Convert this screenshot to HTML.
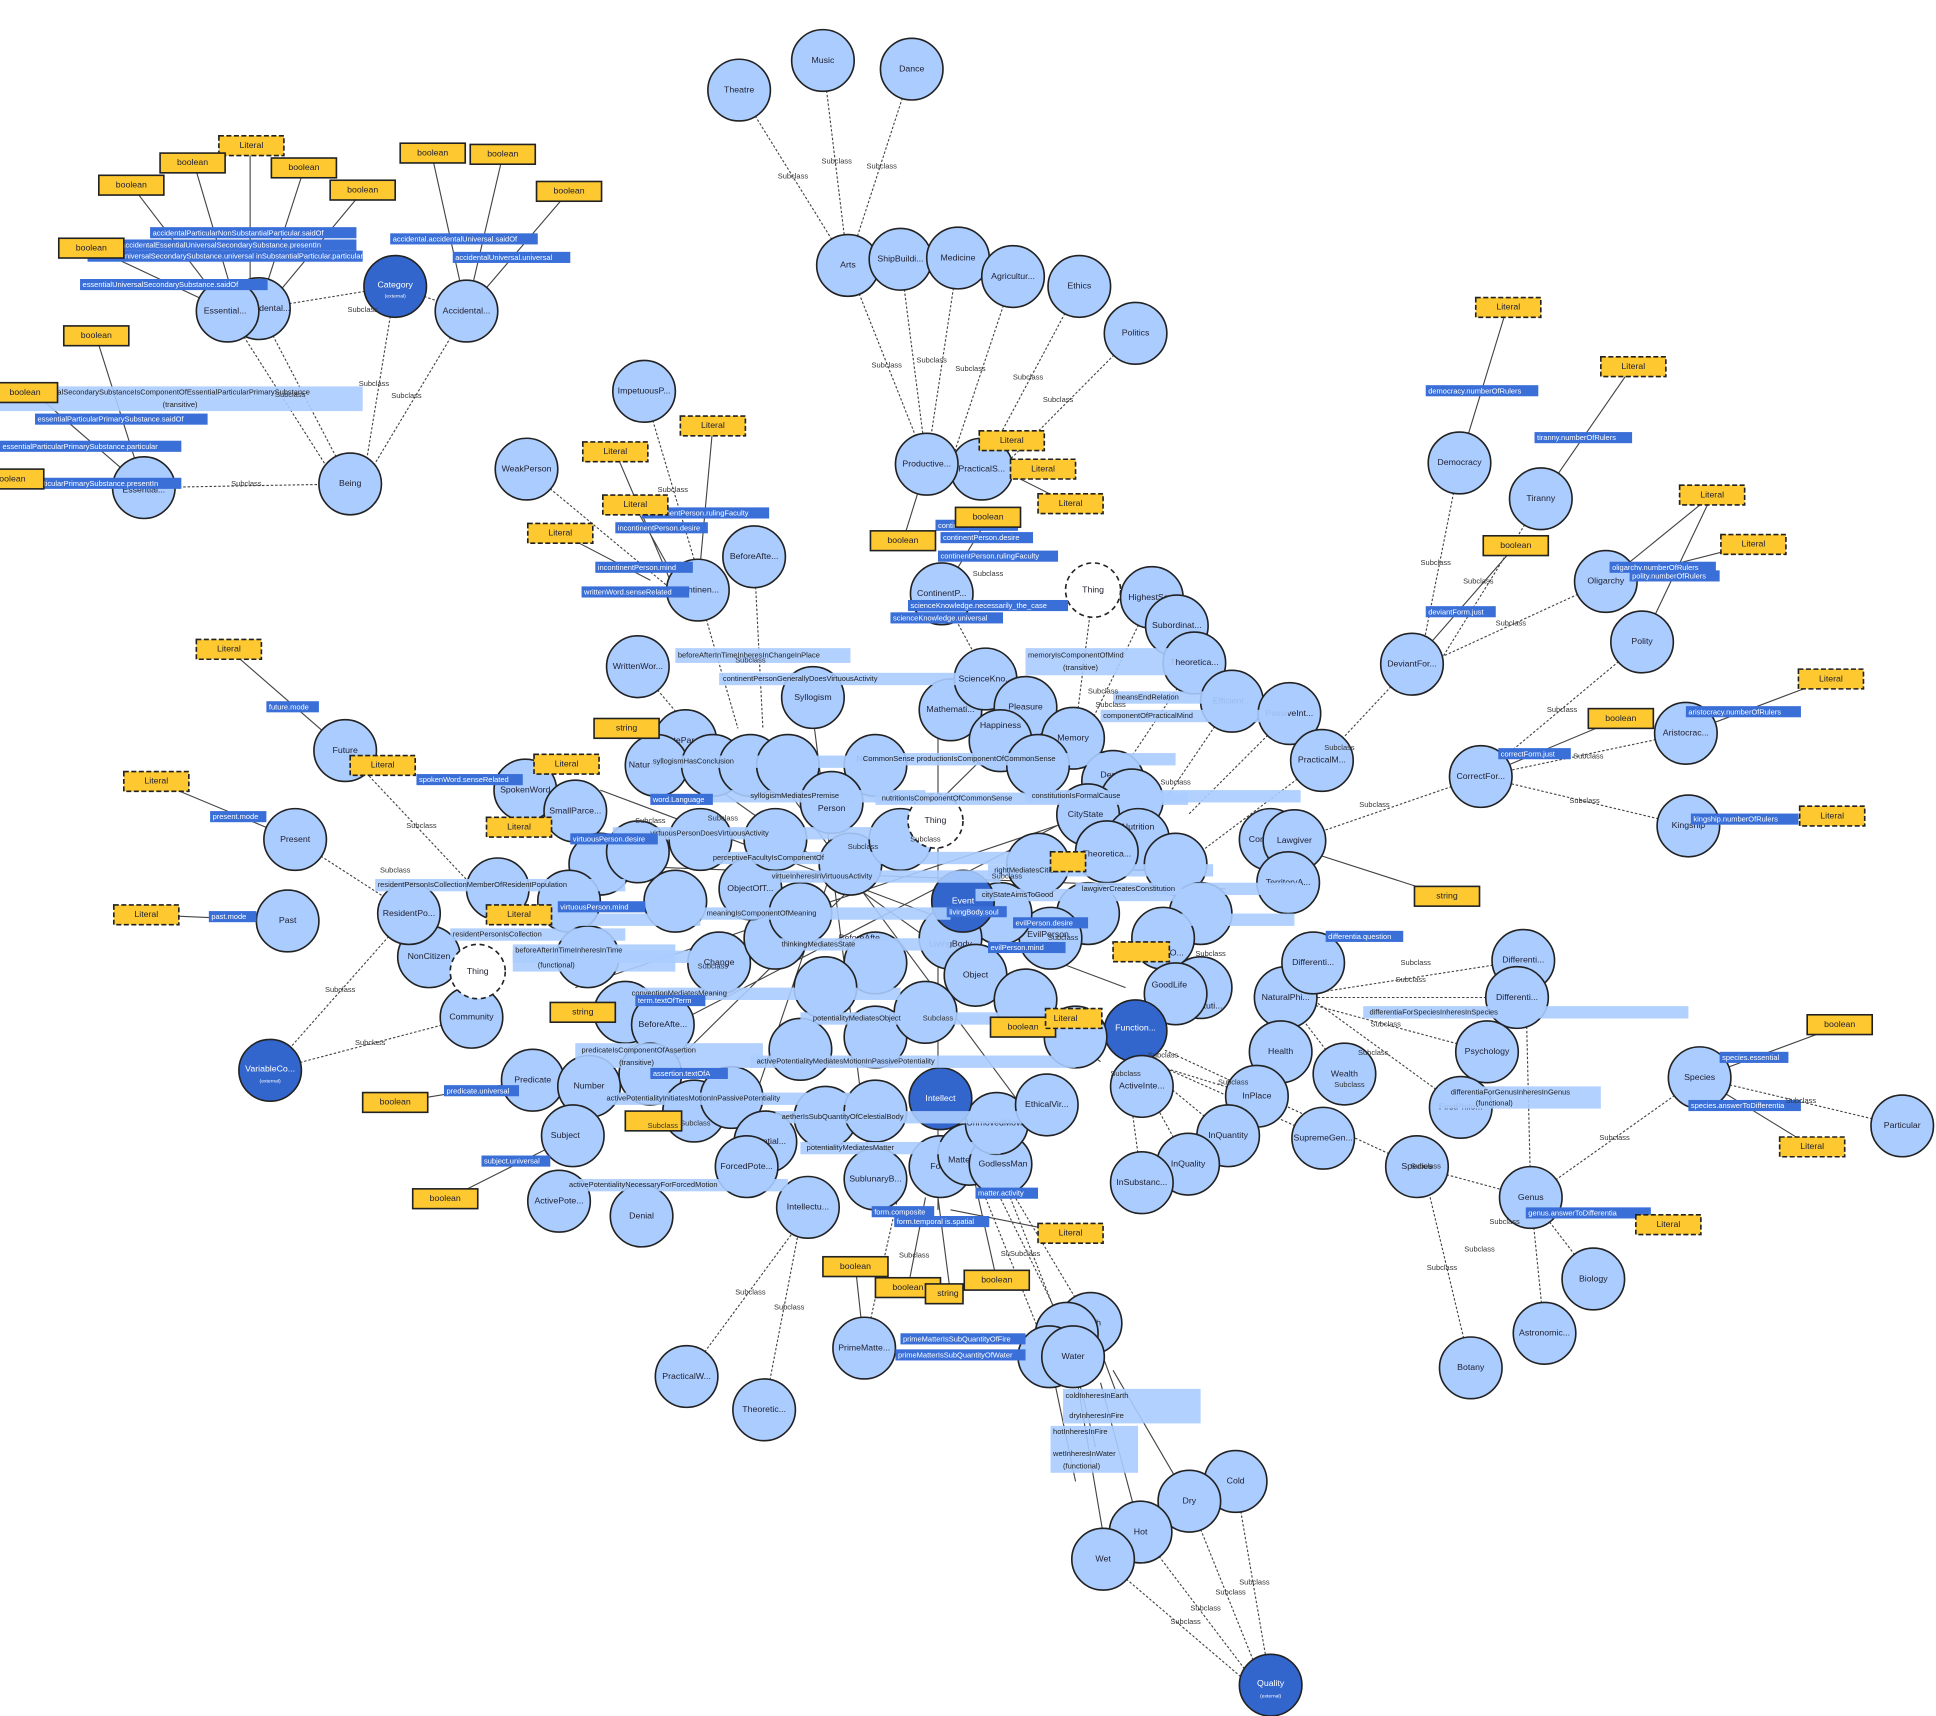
<!DOCTYPE html>
<html><head><meta charset="utf-8"><style>
html,body{margin:0;padding:0;background:#fff;}
svg{display:block;}
text{font-family:"Liberation Sans",sans-serif;}
.n{fill:#aaccff;stroke:#222;stroke-width:1.3;}
.d{fill:#3366cc;stroke:#222;stroke-width:1.3;}
.dt{fill:#fff;stroke:#222;stroke-width:1.3;stroke-dasharray:4 3;}
.t{font-size:7px;fill:#223;text-anchor:middle;dominant-baseline:middle;}
.tw{font-size:7px;fill:#fff;text-anchor:middle;dominant-baseline:middle;}
.s{stroke:#444;stroke-width:0.9;fill:none;stroke-dasharray:2 1.5;}
.p{stroke:#444;stroke-width:0.9;fill:none;}
.y{fill:#fdc830;stroke:#222;stroke-width:1.3;}
.yl{fill:#fdc830;stroke:#222;stroke-width:1.3;stroke-dasharray:4 2;}
.bl{fill:#3a6fd8;}
.lb{fill:#aaccff;opacity:.9;}
.lt{font-size:6px;fill:#fff;dominant-baseline:middle;}
.lk{font-size:6px;fill:#222;dominant-baseline:middle;}
.sc{font-size:6px;fill:#333;text-anchor:middle;dominant-baseline:middle;}
</style></head><body>
<svg width="1936" height="1716" viewBox="0 0 1548 1390" preserveAspectRatio="none">
<!-- edges -->
<g class="s">
<path d="M591 73L678 215M658 49L678 215M729 56L678 215"/>
<path d="M678 215L741 376M720 210L741 376M766 209L741 376M810 224L760 376M863 232L785 380M908 270L800 380"/>
<path d="M207 250L280 392M182 252L270 392M316 232L373 252M207 250L316 232M373 252L290 392M316 232L290 392M115 395L280 392"/>
<path d="M1167 375L1135 538M1232 404L1150 538M1284 471L1140 538M1129 538L1057 616M1313 520L1184 629M1348 594L1184 629M1350 669L1184 629M1184 629L1035 681"/>
<path d="M327 740L216 867M377 824L216 867M276 608L380 720M236 680L320 735"/>
<path d="M1218 778L1028 808M1213 808L1028 808M1189 852L1028 808M1024 852L1028 808M1075 870L1028 808M1168 897L1050 810"/>
<path d="M1133 945L1224 970M1359 873L1224 970M1274 1036L1224 970M1235 1080L1224 970M1176 1108L1140 955M1224 970L1220 800"/>
<path d="M1521 912L1359 873"/>
<path d="M913 958L900 860M950 943L905 860M982 920L910 860M1005 888L915 860M1058 922L920 860M1133 945L930 850"/>
<path d="M988 1200L1016 1365M951 1216L1010 1365M912 1241L1005 1365M882 1263L1000 1365"/>
<path d="M872 1072L800 950M853 1080L790 950M839 1099L780 950M858 1099L800 950M691 1092L720 960"/>
<path d="M549 1115L640 990M611 1142L640 990"/>
<path d="M421 380L540 480M515 317L560 470M603 451L610 590M558 478L590 590M510 540L560 600"/>
<path d="M1057 616L960 690M1031 578L950 660M985 568L930 650M955 537L900 620"/>
<path d="M753 481L790 550M874 478L860 590M921 484L870 590"/>
</g>
<g class="p">
<path d="M182 252L105 150M190 252L155 132M200 252L200 118M207 250L243 137M212 250L290 155M182 252L75 201M115 395L77 273M115 395L27 318M373 252L345 124M373 252L402 126M373 252L454 156"/>
<path d="M1167 375L1205 249M1232 404L1305 297M1284 471L1369 401M1313 520L1369 401M1284 471L1401 441M1348 594L1463 550M1350 669L1465 661M1184 629L1295 582M1129 538L1211 443"/>
<path d="M276 608L183 526M236 680L125 633M230 746L117 741M426 875L316 893M458 920L356 972M1359 873L1471 831M1359 873L1449 929M1016 680L1157 726"/>
<path d="M540 480L492 366M558 478L570 345M535 460L507 409M520 470L448 432M741 376L722 438M760 376L808 357M785 380L833 380M800 380L855 408M753 481L790 420"/>
<path d="M872 1072L894 1132M853 1080L876 1172M858 1099L885 1260M839 1099L860 1200M912 1241L880 1120M951 1216L890 1110M691 1092L684 1026M760 980L855 999M740 970L726 1043M780 960L797 1037M750 970L760 1048"/>
</g>
<!-- center blob lines -->
<g class="p">
<path d="M480 640L900 800M520 600L880 860M600 600L820 900M700 600L600 900M800 600L520 880M900 650L460 800M460 700L980 720M500 850L900 640M650 580L700 980M750 580L750 980"/>
</g>
<!-- circles -->
<g>
<circle class="n" cx="591" cy="73" r="25"/><text class="t" x="591" y="73">Theatre</text>
<circle class="n" cx="658" cy="49" r="25"/><text class="t" x="658" y="49">Music</text>
<circle class="n" cx="729" cy="56" r="25"/><text class="t" x="729" y="56">Dance</text>
<circle class="n" cx="678" cy="215" r="25"/><text class="t" x="678" y="215">Arts</text>
<circle class="n" cx="720" cy="210" r="25"/><text class="t" x="720" y="210">ShipBuildi...</text>
<circle class="n" cx="766" cy="209" r="25"/><text class="t" x="766" y="209">Medicine</text>
<circle class="n" cx="810" cy="224" r="25"/><text class="t" x="810" y="224">Agricultur...</text>
<circle class="n" cx="863" cy="232" r="25"/><text class="t" x="863" y="232">Ethics</text>
<circle class="n" cx="908" cy="270" r="25"/><text class="t" x="908" y="270">Politics</text>
<circle class="n" cx="785" cy="380" r="25"/><text class="t" x="785" y="380">PracticalS...</text>
<circle class="n" cx="741" cy="376" r="25"/><text class="t" x="741" y="376">Productive...</text>
<circle class="n" cx="207" cy="250" r="25"/><text class="t" x="213" y="250">Accidental...</text>
<circle class="n" cx="182" cy="252" r="25"/><text class="t" x="180" y="252">Essential...</text>
<circle class="d" cx="316" cy="232" r="25"/><text class="tw" x="316" y="231">Category</text><text class="tw" x="316" y="240" style="font-size:4px">(external)</text>
<circle class="n" cx="373" cy="252" r="25"/><text class="t" x="373" y="252">Accidental...</text>
<circle class="n" cx="280" cy="392" r="25"/><text class="t" x="280" y="392">Being</text>
<circle class="n" cx="115" cy="395" r="25"/><text class="t" x="115" y="397">Essential...</text>
<circle class="n" cx="421" cy="380" r="25"/><text class="t" x="421" y="380">WeakPerson</text>
<circle class="n" cx="515" cy="317" r="25"/><text class="t" x="515" y="317">ImpetuousP...</text>
<circle class="n" cx="603" cy="451" r="25"/><text class="t" x="603" y="451">BeforeAfte...</text>
<circle class="n" cx="558" cy="478" r="25"/><text class="t" x="558" y="478">Continen...</text>
<circle class="n" cx="510" cy="540" r="25"/><text class="t" x="510" y="540">WrittenWor...</text>
<circle class="n" cx="753" cy="481" r="25"/><text class="t" x="753" y="481">ContinentP...</text>
<circle class="dt" cx="874" cy="478" r="22"/><text class="t" x="874" y="478">Thing</text>
<circle class="n" cx="921" cy="484" r="25"/><text class="t" x="921" y="484">HighestSc...</text>
<circle class="n" cx="941" cy="507" r="25"/><text class="t" x="941" y="507">Subordinat...</text>
<circle class="n" cx="955" cy="537" r="25"/><text class="t" x="955" y="537">Theoretica...</text>
<circle class="n" cx="985" cy="568" r="25"/><text class="t" x="985" y="568">Efficient...</text>
<circle class="n" cx="1031" cy="578" r="25"/><text class="t" x="1031" y="578">PassiveInt...</text>
<circle class="n" cx="1057" cy="616" r="25"/><text class="t" x="1057" y="616">PracticalM...</text>
<circle class="n" cx="1167" cy="375" r="25"/><text class="t" x="1167" y="375">Democracy</text>
<circle class="n" cx="1232" cy="404" r="25"/><text class="t" x="1232" y="404">Tiranny</text>
<circle class="n" cx="1284" cy="471" r="25"/><text class="t" x="1284" y="471">Oligarchy</text>
<circle class="n" cx="1313" cy="520" r="25"/><text class="t" x="1313" y="520">Polity</text>
<circle class="n" cx="1129" cy="538" r="25"/><text class="t" x="1129" y="538">DeviantFor...</text>
<circle class="n" cx="1348" cy="594" r="25"/><text class="t" x="1348" y="594">Aristocrac...</text>
<circle class="n" cx="1184" cy="629" r="25"/><text class="t" x="1184" y="629">CorrectFor...</text>
<circle class="n" cx="1350" cy="669" r="25"/><text class="t" x="1350" y="669">Kingship</text>
<circle class="n" cx="276" cy="608" r="25"/><text class="t" x="276" y="608">Future</text>
<circle class="n" cx="236" cy="680" r="25"/><text class="t" x="236" y="680">Present</text>
<circle class="n" cx="230" cy="746" r="25"/><text class="t" x="230" y="746">Past</text>
<circle class="d" cx="216" cy="867" r="25"/><text class="tw" x="216" y="866">VariableCo...</text><text class="tw" x="216" y="876" style="font-size:4px">(external)</text>
<circle class="n" cx="377" cy="824" r="25"/><text class="t" x="377" y="824">Community</text>
<circle class="n" cx="343" cy="775" r="25"/><text class="t" x="343" y="775">NonCitizen</text>
<circle class="n" cx="327" cy="740" r="25"/><text class="t" x="327" y="740">ResidentPo...</text>
<circle class="dt" cx="382" cy="787" r="22"/><text class="t" x="382" y="787">Thing</text>
<circle class="n" cx="398" cy="720" r="25"/>
<circle class="n" cx="420" cy="640" r="25"/><text class="t" x="420" y="640">SpokenWord</text>
<circle class="n" cx="1218" cy="778" r="25"/><text class="t" x="1218" y="778">Differenti...</text>
<circle class="n" cx="1213" cy="808" r="25"/><text class="t" x="1213" y="808">Differenti...</text>
<circle class="n" cx="1028" cy="808" r="25"/><text class="t" x="1028" y="808">NaturalPhi...</text>
<circle class="n" cx="1050" cy="780" r="25"/><text class="t" x="1050" y="780">Differenti...</text>
<circle class="n" cx="1024" cy="852" r="25"/><text class="t" x="1024" y="852">Health</text>
<circle class="n" cx="1075" cy="870" r="25"/><text class="t" x="1075" y="870">Wealth</text>
<circle class="n" cx="1189" cy="852" r="25"/><text class="t" x="1189" y="852">Psychology</text>
<circle class="n" cx="1168" cy="897" r="25"/><text class="t" x="1168" y="897">FirstPhilo...</text>
<circle class="n" cx="1005" cy="888" r="25"/><text class="t" x="1005" y="888">InPlace</text>
<circle class="n" cx="982" cy="920" r="25"/><text class="t" x="982" y="920">InQuantity</text>
<circle class="n" cx="950" cy="943" r="25"/><text class="t" x="950" y="943">InQuality</text>
<circle class="n" cx="913" cy="958" r="25"/><text class="t" x="913" y="958">InSubstanc...</text>
<circle class="n" cx="1058" cy="922" r="25"/><text class="t" x="1058" y="922">SupremeGen...</text>
<circle class="n" cx="1133" cy="945" r="25"/><text class="t" x="1133" y="945">Species</text>
<circle class="n" cx="1359" cy="873" r="25"/><text class="t" x="1359" y="873">Species</text>
<circle class="n" cx="1521" cy="912" r="25"/><text class="t" x="1521" y="912">Particular</text>
<circle class="n" cx="1224" cy="970" r="25"/><text class="t" x="1224" y="970">Genus</text>
<circle class="n" cx="1274" cy="1036" r="25"/><text class="t" x="1274" y="1036">Biology</text>
<circle class="n" cx="1235" cy="1080" r="25"/><text class="t" x="1235" y="1080">Astronomic...</text>
<circle class="n" cx="1176" cy="1108" r="25"/><text class="t" x="1176" y="1108">Botany</text>
<circle class="n" cx="1016" cy="680" r="25"/><text class="t" x="1016" y="680">Constituti...</text>
<circle class="n" cx="1035" cy="681" r="25"/><text class="t" x="1035" y="681">Lawgiver</text>
<circle class="n" cx="1030" cy="715" r="25"/><text class="t" x="1030" y="715">TerritoryA...</text>
<circle class="n" cx="549" cy="1115" r="25"/><text class="t" x="549" y="1115">PracticalW...</text>
<circle class="n" cx="611" cy="1142" r="25"/><text class="t" x="611" y="1142">Theoretic...</text>
<circle class="n" cx="691" cy="1092" r="25"/><text class="t" x="691" y="1092">PrimeMatte...</text>
<circle class="n" cx="872" cy="1072" r="25"/><text class="t" x="872" y="1072">Earth</text>
<circle class="n" cx="853" cy="1080" r="25"/><text class="t" x="853" y="1080">Fire</text>
<circle class="n" cx="839" cy="1099" r="25"/><text class="t" x="839" y="1099">Air</text>
<circle class="n" cx="858" cy="1099" r="25"/><text class="t" x="858" y="1099">Water</text>
<circle class="n" cx="988" cy="1200" r="25"/><text class="t" x="988" y="1200">Cold</text>
<circle class="n" cx="951" cy="1216" r="25"/><text class="t" x="951" y="1216">Dry</text>
<circle class="n" cx="912" cy="1241" r="25"/><text class="t" x="912" y="1241">Hot</text>
<circle class="n" cx="882" cy="1263" r="25"/><text class="t" x="882" y="1263">Wet</text>
<circle class="d" cx="1016" cy="1365" r="25"/><text class="tw" x="1016" y="1364">Quality</text><text class="tw" x="1016" y="1374" style="font-size:4px">(external)</text>
</g>
<!-- center cluster -->
<g>
<circle class="n" cx="548" cy="600" r="25"/><text class="t" x="548" y="600">TasteParce...</text>
<circle class="n" cx="525" cy="620" r="25"/><text class="t" x="520" y="620">NaturalPi...</text>
<circle class="n" cx="570" cy="620" r="25"/><circle class="n" cx="600" cy="620" r="25"/><circle class="n" cx="630" cy="620" r="25"/>
<circle class="n" cx="650" cy="565" r="25"/><text class="t" x="650" y="565">Syllogism</text>
<circle class="n" cx="700" cy="620" r="25"/><text class="t" x="695" y="615">Nature</text>
<circle class="n" cx="665" cy="650" r="25"/><text class="t" x="665" y="655">Person</text>
<circle class="n" cx="460" cy="657" r="25"/><text class="t" x="460" y="657">SmallParce...</text>
<circle class="n" cx="480" cy="700" r="25"/>
<circle class="n" cx="455" cy="730" r="25"/>
<circle class="n" cx="470" cy="775" r="25"/>
<circle class="n" cx="500" cy="820" r="25"/>
<circle class="n" cx="530" cy="830" r="25"/><text class="t" x="530" y="830">BeforeAfte...</text>
<circle class="n" cx="426" cy="875" r="25"/><text class="t" x="426" y="875">Predicate</text>
<circle class="n" cx="471" cy="880" r="25"/><text class="t" x="471" y="880">Number</text>
<circle class="n" cx="458" cy="920" r="25"/><text class="t" x="452" y="920">Subject</text>
<circle class="n" cx="447" cy="973" r="25"/><text class="t" x="447" y="973">ActivePote...</text>
<circle class="n" cx="513" cy="985" r="25"/><text class="t" x="513" y="985">Denial</text>
<circle class="n" cx="520" cy="870" r="25"/><circle class="n" cx="555" cy="900" r="25"/>
<circle class="n" cx="585" cy="889" r="25"/><text class="t" x="585" y="889">Actuality</text>
<circle class="n" cx="612" cy="925" r="25"/><text class="t" x="612" y="925">Potential...</text>
<circle class="n" cx="597" cy="945" r="25"/><text class="t" x="597" y="945">ForcedPote...</text>
<circle class="n" cx="646" cy="978" r="25"/><text class="t" x="646" y="978">Intellectu...</text>
<circle class="n" cx="700" cy="955" r="25"/><text class="t" x="700" y="955">SublunaryB...</text>
<circle class="n" cx="660" cy="905" r="25"/><circle class="n" cx="700" cy="900" r="25"/>
<circle class="n" cx="752" cy="945" r="25"/><text class="t" x="752" y="945">Form</text>
<circle class="n" cx="775" cy="935" r="25"/><text class="t" x="768" y="940">Matter</text>
<circle class="n" cx="800" cy="943" r="25"/><text class="t" x="802" y="943">GodlessMan</text>
<circle class="n" cx="797" cy="910" r="25"/><text class="t" x="797" y="910">UnmovedMov...</text>
<circle class="n" cx="837" cy="895" r="25"/><text class="t" x="837" y="895">EthicalVir...</text>
<circle class="d" cx="752" cy="890" r="25"/><text class="tw" x="752" y="890">Intellect</text>
<circle class="n" cx="575" cy="780" r="25"/><text class="t" x="575" y="780">Change</text>
<circle class="n" cx="620" cy="760" r="25"/><circle class="n" cx="600" cy="720" r="25"/><text class="t" x="600" y="720">ObjectOfT...</text>
<circle class="n" cx="540" cy="730" r="25"/><circle class="n" cx="510" cy="690" r="25"/>
<circle class="n" cx="560" cy="680" r="25"/><circle class="n" cx="620" cy="680" r="25"/>
<circle class="n" cx="680" cy="700" r="25"/><circle class="n" cx="720" cy="680" r="25"/>
<circle class="dt" cx="748" cy="665" r="22"/><text class="t" x="748" y="665">Thing</text>
<circle class="n" cx="760" cy="575" r="25"/><text class="t" x="760" y="575">Mathemati...</text>
<circle class="n" cx="788" cy="550" r="25"/><text class="t" x="788" y="550">ScienceKno...</text>
<circle class="n" cx="820" cy="573" r="25"/><text class="t" x="820" y="573">Pleasure</text>
<circle class="n" cx="800" cy="600" r="25"/><text class="t" x="800" y="588">Happiness</text>
<circle class="n" cx="858" cy="598" r="25"/><text class="t" x="858" y="598">Memory</text>
<circle class="n" cx="830" cy="620" r="25"/><text class="t" x="820" y="615">MeanCa...</text>
<circle class="n" cx="890" cy="633" r="25"/><text class="t" x="890" y="628">Desire</text>
<circle class="n" cx="905" cy="648" r="25"/><text class="t" x="905" y="648">Reproducti...</text>
<circle class="n" cx="870" cy="660" r="25"/><text class="t" x="868" y="660">CityState</text>
<circle class="n" cx="910" cy="680" r="25"/><text class="t" x="910" y="670">Nutrition</text>
<circle class="n" cx="885" cy="690" r="25"/><text class="t" x="885" y="692">Theoretica...</text>
<circle class="n" cx="940" cy="700" r="25"/><circle class="n" cx="960" cy="740" r="25"/>
<circle class="n" cx="930" cy="760" r="25"/><text class="t" x="925" y="772">TheRulingO...</text>
<circle class="n" cx="960" cy="800" r="25"/><text class="t" x="960" y="815">Constituti...</text>
<circle class="n" cx="940" cy="805" r="25"/><text class="t" x="935" y="798">GoodLife</text>
<circle class="d" cx="908" cy="835" r="25"/><text class="tw" x="908" y="833">Function...</text>
<circle class="n" cx="913" cy="880" r="25"/><text class="t" x="913" y="880">ActiveInte...</text>
<circle class="n" cx="870" cy="740" r="25"/><circle class="n" cx="840" cy="760" r="25"/><text class="t" x="838" y="757">EvilPerson</text>
<circle class="n" cx="800" cy="740" r="25"/><circle class="n" cx="760" cy="760" r="25"/><text class="t" x="760" y="765">LivingBody</text>
<circle class="d" cx="770" cy="730" r="25"/><text class="tw" x="770" y="730">Event</text>
<circle class="n" cx="780" cy="790" r="25"/><text class="t" x="780" y="790">Object</text>
<circle class="n" cx="820" cy="810" r="25"/><circle class="n" cx="700" cy="780" r="25"/><text class="t" x="690" y="760">BeforeAfte...</text>
<circle class="n" cx="660" cy="800" r="25"/><circle class="n" cx="700" cy="840" r="25"/><circle class="n" cx="640" cy="850" r="25"/>
<circle class="n" cx="740" cy="820" r="25"/><circle class="n" cx="860" cy="840" r="25"/>
<circle class="n" cx="830" cy="700" r="25"/><circle class="n" cx="640" cy="740" r="25"/>
</g>
<!-- label bars center -->
<g>
<rect class="lb" x="520" y="612" width="160" height="10"/><rect class="lb" x="680" y="610" width="260" height="10"/>
<rect class="lb" x="560" y="640" width="180" height="10"/><rect class="lb" x="700" y="642" width="250" height="10"/>
<rect class="lb" x="490" y="670" width="220" height="10"/><rect class="lb" x="560" y="690" width="250" height="10"/>
<rect class="lb" x="600" y="705" width="200" height="10"/><rect class="lb" x="790" y="700" width="180" height="10"/>
<rect class="lb" x="440" y="740" width="120" height="10"/><rect class="lb" x="560" y="735" width="200" height="10"/>
<rect class="lb" x="620" y="760" width="140" height="10"/><rect class="lb" x="780" y="720" width="170" height="10"/>
<rect class="lb" x="410" y="770" width="150" height="10"/><rect class="lb" x="500" y="800" width="220" height="10"/>
<rect class="lb" x="640" y="820" width="200" height="10"/><rect class="lb" x="460" y="845" width="150" height="20"/>
<rect class="lb" x="600" y="855" width="260" height="10"/><rect class="lb" x="480" y="885" width="200" height="10"/>
<rect class="lb" x="620" y="900" width="200" height="10"/><rect class="lb" x="640" y="925" width="160" height="10"/>
<rect class="lb" x="450" y="955" width="180" height="10"/><rect class="lb" x="820" y="640" width="220" height="10"/>
<rect class="lb" x="940" y="740" width="95" height="10"/><rect class="lb" x="860" y="715" width="180" height="10"/>
<rect class="lb" x="820" y="525" width="120" height="22"/><rect class="lb" x="540" y="525" width="140" height="12"/>
<rect class="lb" x="575" y="545" width="190" height="10"/><rect class="lb" x="300" y="712" width="200" height="10"/>
<rect class="lb" x="360" y="752" width="140" height="10"/><rect class="lb" x="410" y="765" width="130" height="22"/>
<rect class="lb" x="0" y="313" width="290" height="20"/><rect class="lb" x="1090" y="815" width="260" height="10"/>
<rect class="lb" x="1150" y="880" width="130" height="18"/><rect class="lb" x="850" y="1125" width="110" height="28"/>
<rect class="lb" x="840" y="1155" width="70" height="38"/><rect class="lb" x="890" y="560" width="110" height="10"/>
<rect class="lb" x="880" y="575" width="150" height="10"/>
<text class="lk" x="522" y="617">syllogismHasConclusion</text><text class="lk" x="690" y="615">CommonSense productionIsComponentOfCommonSense</text>
<text class="lk" x="600" y="645">syllogismMediatesPremise</text><text class="lk" x="705" y="647">nutritionIsComponentOfCommonSense</text>
<text class="lk" x="520" y="675">virtuousPersonDoesVirtuousActivity</text><text class="lk" x="570" y="695">perceptiveFacultyIsComponentOf</text>
<text class="lk" x="617" y="710">virtueInheresInVirtuousActivity</text><text class="lk" x="795" y="705">rightMediatesCitizen</text>
<text class="lk" x="565" y="740">meaningIsComponentOfMeaning</text><text class="lk" x="625" y="765">thinkingMediatesState</text>
<text class="lk" x="785" y="725">cityStateAimsToGood</text><text class="lk" x="505" y="805">conventionMediatesMeaning</text>
<text class="lk" x="650" y="825">potentialityMediatesObject</text><text class="lk" x="465" y="851">predicateIsComponentOfAssertion</text><text class="lk" x="495" y="861">(transitive)</text>
<text class="lk" x="605" y="860">activePotentialityMediatesMotionInPassivePotentiality</text>
<text class="lk" x="485" y="890">activePotentialityInitiatesMotionInPassivePotentiality</text>
<text class="lk" x="625" y="905">aetherIsSubQuantityOfCelestialBody</text><text class="lk" x="645" y="930">potentialityMediatesMatter</text>
<text class="lk" x="455" y="960">activePotentialityNecessaryForForcedMotion</text>
<text class="lk" x="825" y="645">constitutionIsFormalCause</text><text class="lk" x="865" y="720">lawgiverCreatesConstitution</text>
<text class="lk" x="822" y="531">memoryIsComponentOfMind</text><text class="lk" x="850" y="541">(transitive)</text>
<text class="lk" x="542" y="531">beforeAfterInTimeInheresInChangeInPlace</text>
<text class="lk" x="578" y="550">continentPersonGenerallyDoesVirtuousActivity</text>
<text class="lk" x="302" y="717">residentPersonIsCollectionMemberOfResidentPopulation</text>
<text class="lk" x="362" y="757">residentPersonIsCollection</text>
<text class="lk" x="412" y="770">beforeAfterInTimeInheresInTime</text><text class="lk" x="430" y="782">(functional)</text>
<text class="lk" x="2" y="318">essentialUniversalSecondarySubstanceIsComponentOfEssentialParticularPrimarySubstance</text><text class="lk" x="130" y="328">(transitive)</text>
<text class="lk" x="1095" y="820">differentiaForSpeciesInheresInSpecies</text>
<text class="lk" x="1160" y="885">differentiaForGenusInheresInGenus</text><text class="lk" x="1180" y="894">(functional)</text>
<text class="lk" x="852" y="1131">coldInheresInEarth</text><text class="lk" x="855" y="1147">dryInheresInFire</text>
<text class="lk" x="842" y="1160">hotInheresInFire</text><text class="lk" x="842" y="1178">wetInheresInWater</text><text class="lk" x="850" y="1188">(functional)</text>
<text class="lk" x="892" y="565">meansEndRelation</text><text class="lk" x="882" y="580">componentOfPracticalMind</text>
</g>
<!-- dark label bars -->
<g>
<rect class="bl" x="120" y="184" width="165" height="9"/><text class="lt" x="122" y="189">accidentalParticularNonSubstantialParticular.saidOf</text>
<rect class="bl" x="95" y="194" width="190" height="9"/><text class="lt" x="97" y="199">accidentalEssentialUniversalSecondarySubstance.presentIn</text>
<rect class="bl" x="70" y="203" width="220" height="9"/><text class="lt" x="72" y="208">essentialUniversalSecondarySubstance.universal  inSubstantialParticular.particular</text>
<rect class="bl" x="64" y="226" width="150" height="9"/><text class="lt" x="66" y="231">essentialUniversalSecondarySubstance.saidOf</text>
<rect class="bl" x="312" y="189" width="118" height="9"/><text class="lt" x="314" y="194">accidental.accidentalUniversal.saidOf</text>
<rect class="bl" x="362" y="204" width="94" height="9"/><text class="lt" x="364" y="209">accidentalUniversal.universal</text>
<rect class="bl" x="28" y="335" width="138" height="9"/><text class="lt" x="30" y="340">essentialParticularPrimarySubstance.saidOf</text>
<rect class="bl" x="0" y="357" width="145" height="9"/><text class="lt" x="2" y="362">essentialParticularPrimarySubstance.particular</text>
<rect class="bl" x="0" y="387" width="145" height="9"/><text class="lt" x="2" y="392">essentialParticularPrimarySubstance.presentIn</text>
<rect class="bl" x="1140" y="312" width="90" height="9"/><text class="lt" x="1142" y="317">democracy.numberOfRulers</text>
<rect class="bl" x="1227" y="350" width="78" height="9"/><text class="lt" x="1229" y="355">tiranny.numberOfRulers</text>
<rect class="bl" x="1287" y="455" width="85" height="9"/><text class="lt" x="1289" y="460">oligarchy.numberOfRulers</text>
<rect class="bl" x="1303" y="462" width="72" height="9"/><text class="lt" x="1305" y="467">polity.numberOfRulers</text>
<rect class="bl" x="1140" y="491" width="56" height="9"/><text class="lt" x="1142" y="496">deviantForm.just</text>
<rect class="bl" x="1348" y="572" width="92" height="9"/><text class="lt" x="1350" y="577">aristocracy.numberOfRulers</text>
<rect class="bl" x="1198" y="606" width="58" height="9"/><text class="lt" x="1200" y="611">correctForm.just</text>
<rect class="bl" x="1352" y="659" width="86" height="9"/><text class="lt" x="1354" y="664">kingship.numberOfRulers</text>
<rect class="bl" x="213" y="568" width="42" height="9"/><text class="lt" x="215" y="573">future.mode</text>
<rect class="bl" x="168" y="657" width="45" height="9"/><text class="lt" x="170" y="662">present.mode</text>
<rect class="bl" x="167" y="738" width="38" height="9"/><text class="lt" x="169" y="743">past.mode</text>
<rect class="bl" x="333" y="627" width="85" height="9"/><text class="lt" x="335" y="632">spokenWord.senseRelated</text>
<rect class="bl" x="355" y="879" width="60" height="9"/><text class="lt" x="357" y="884">predicate.universal</text>
<rect class="bl" x="385" y="936" width="55" height="9"/><text class="lt" x="387" y="941">subject.universal</text>
<rect class="bl" x="1060" y="754" width="62" height="9"/><text class="lt" x="1062" y="759">differentia.question</text>
<rect class="bl" x="1375" y="852" width="55" height="9"/><text class="lt" x="1377" y="857">species.essential</text>
<rect class="bl" x="1350" y="891" width="90" height="9"/><text class="lt" x="1352" y="896">species.answerToDifferentia</text>
<rect class="bl" x="1220" y="978" width="100" height="9"/><text class="lt" x="1222" y="983">genus.answerToDifferentia</text>
<rect class="bl" x="513" y="411" width="102" height="9"/><text class="lt" x="515" y="416">incontinentPerson.rulingFaculty</text>
<rect class="bl" x="492" y="423" width="74" height="9"/><text class="lt" x="494" y="428">incontinentPerson.desire</text>
<rect class="bl" x="476" y="455" width="78" height="9"/><text class="lt" x="478" y="460">incontinentPerson.mind</text>
<rect class="bl" x="465" y="475" width="86" height="9"/><text class="lt" x="467" y="480">writtenWord.senseRelated</text>
<rect class="bl" x="748" y="421" width="66" height="9"/><text class="lt" x="750" y="426">continentPerson.mind</text>
<rect class="bl" x="752" y="431" width="74" height="9"/><text class="lt" x="754" y="436">continentPerson.desire</text>
<rect class="bl" x="750" y="446" width="96" height="9"/><text class="lt" x="752" y="451">continentPerson.rulingFaculty</text>
<rect class="bl" x="726" y="486" width="128" height="9"/><text class="lt" x="728" y="491">scienceKnowledge.necessarily_the_case</text>
<rect class="bl" x="712" y="496" width="90" height="9"/><text class="lt" x="714" y="501">scienceKnowledge.universal</text>
<rect class="bl" x="520" y="643" width="50" height="9"/><text class="lt" x="522" y="648">word.Language</text>
<rect class="bl" x="456" y="675" width="70" height="9"/><text class="lt" x="458" y="680">virtuousPerson.desire</text>
<rect class="bl" x="446" y="730" width="70" height="9"/><text class="lt" x="448" y="735">virtuousPerson.mind</text>
<rect class="bl" x="508" y="806" width="56" height="9"/><text class="lt" x="510" y="811">term.textOfTerm</text>
<rect class="bl" x="520" y="865" width="62" height="9"/><text class="lt" x="522" y="870">assertion.textOfA</text>
<rect class="bl" x="810" y="743" width="60" height="9"/><text class="lt" x="812" y="748">evilPerson.desire</text>
<rect class="bl" x="790" y="763" width="62" height="9"/><text class="lt" x="792" y="768">evilPerson.mind</text>
<rect class="bl" x="757" y="734" width="48" height="9"/><text class="lt" x="759" y="739">livingBody.soul</text>
<rect class="bl" x="780" y="962" width="50" height="9"/><text class="lt" x="782" y="967">matter.activity</text>
<rect class="bl" x="697" y="977" width="50" height="9"/><text class="lt" x="699" y="982">form.composite</text>
<rect class="bl" x="715" y="985" width="76" height="9"/><text class="lt" x="717" y="990">form.temporal  is.spatial</text>
<rect class="bl" x="720" y="1080" width="100" height="9"/><text class="lt" x="722" y="1085">primeMatterIsSubQuantityOfFire</text>
<rect class="bl" x="716" y="1093" width="104" height="9"/><text class="lt" x="718" y="1098">primeMatterIsSubQuantityOfWater</text>
</g>
<!-- yellow boxes -->
<g>
<rect class="yl" x="175" y="110" width="52" height="16"/><text class="t" x="201" y="118">Literal</text>
<rect class="y" x="128" y="124" width="52" height="16"/><text class="t" x="154" y="132">boolean</text>
<rect class="y" x="217" y="128" width="52" height="16"/><text class="t" x="243" y="136">boolean</text>
<rect class="y" x="79" y="142" width="52" height="16"/><text class="t" x="105" y="150">boolean</text>
<rect class="y" x="264" y="146" width="52" height="16"/><text class="t" x="290" y="154">boolean</text>
<rect class="y" x="47" y="193" width="52" height="16"/><text class="t" x="73" y="201">boolean</text>
<rect class="y" x="320" y="116" width="52" height="16"/><text class="t" x="346" y="124">boolean</text>
<rect class="y" x="376" y="117" width="52" height="16"/><text class="t" x="402" y="125">boolean</text>
<rect class="y" x="429" y="147" width="52" height="16"/><text class="t" x="455" y="155">boolean</text>
<rect class="y" x="51" y="264" width="52" height="16"/><text class="t" x="77" y="272">boolean</text>
<rect class="y" x="-10" y="310" width="56" height="16"/><text class="t" x="20" y="318">boolean</text>
<rect class="y" x="-10" y="380" width="45" height="16"/><text class="t" x="8" y="388">boolean</text>
<rect class="yl" x="1180" y="241" width="52" height="16"/><text class="t" x="1206" y="249">Literal</text>
<rect class="yl" x="1280" y="289" width="52" height="16"/><text class="t" x="1306" y="297">Literal</text>
<rect class="yl" x="1343" y="393" width="52" height="16"/><text class="t" x="1369" y="401">Literal</text>
<rect class="yl" x="1376" y="433" width="52" height="16"/><text class="t" x="1402" y="441">Literal</text>
<rect class="y" x="1186" y="434" width="52" height="16"/><text class="t" x="1212" y="442">boolean</text>
<rect class="yl" x="1438" y="542" width="52" height="16"/><text class="t" x="1464" y="550">Literal</text>
<rect class="y" x="1270" y="574" width="52" height="16"/><text class="t" x="1296" y="582">boolean</text>
<rect class="yl" x="1439" y="653" width="52" height="16"/><text class="t" x="1465" y="661">Literal</text>
<rect class="y" x="1445" y="822" width="52" height="16"/><text class="t" x="1471" y="830">boolean</text>
<rect class="yl" x="1423" y="921" width="52" height="16"/><text class="t" x="1449" y="929">Literal</text>
<rect class="yl" x="1308" y="984" width="52" height="16"/><text class="t" x="1334" y="992">Literal</text>
<rect class="y" x="1131" y="718" width="52" height="16"/><text class="t" x="1157" y="726">string</text>
<rect class="yl" x="157" y="518" width="52" height="16"/><text class="t" x="183" y="526">Literal</text>
<rect class="yl" x="99" y="625" width="52" height="16"/><text class="t" x="125" y="633">Literal</text>
<rect class="yl" x="91" y="733" width="52" height="16"/><text class="t" x="117" y="741">Literal</text>
<rect class="yl" x="280" y="612" width="52" height="16"/><text class="t" x="306" y="620">Literal</text>
<rect class="yl" x="427" y="611" width="52" height="16"/><text class="t" x="453" y="619">Literal</text>
<rect class="yl" x="389" y="662" width="52" height="16"/><text class="t" x="415" y="670">Literal</text>
<rect class="yl" x="389" y="733" width="52" height="16"/><text class="t" x="415" y="741">Literal</text>
<rect class="y" x="475" y="582" width="52" height="16"/><text class="t" x="501" y="590">string</text>
<rect class="y" x="440" y="812" width="52" height="16"/><text class="t" x="466" y="820">string</text>
<rect class="y" x="290" y="885" width="52" height="16"/><text class="t" x="316" y="893">boolean</text>
<rect class="y" x="330" y="963" width="52" height="16"/><text class="t" x="356" y="971">boolean</text>
<rect class="y" x="500" y="900" width="45" height="16"/>
<rect class="yl" x="466" y="358" width="52" height="16"/><text class="t" x="492" y="366">Literal</text>
<rect class="yl" x="544" y="337" width="52" height="16"/><text class="t" x="570" y="345">Literal</text>
<rect class="yl" x="482" y="401" width="52" height="16"/><text class="t" x="508" y="409">Literal</text>
<rect class="yl" x="422" y="424" width="52" height="16"/><text class="t" x="448" y="432">Literal</text>
<rect class="yl" x="783" y="349" width="52" height="16"/><text class="t" x="809" y="357">Literal</text>
<rect class="yl" x="808" y="372" width="52" height="16"/><text class="t" x="834" y="380">Literal</text>
<rect class="yl" x="830" y="400" width="52" height="16"/><text class="t" x="856" y="408">Literal</text>
<rect class="y" x="764" y="411" width="52" height="16"/><text class="t" x="790" y="419">boolean</text>
<rect class="y" x="696" y="430" width="52" height="16"/><text class="t" x="722" y="438">boolean</text>
<rect class="y" x="792" y="824" width="52" height="16"/><text class="t" x="818" y="832">boolean</text>
<rect class="yl" x="836" y="817" width="45" height="16"/><text class="t" x="852" y="825">Literal</text>
<rect class="yl" x="890" y="763" width="45" height="16"/>
<rect class="yl" x="840" y="690" width="28" height="16"/>
<rect class="yl" x="830" y="991" width="52" height="16"/><text class="t" x="856" y="999">Literal</text>
<rect class="y" x="658" y="1018" width="52" height="16"/><text class="t" x="684" y="1026">boolean</text>
<rect class="y" x="700" y="1035" width="52" height="16"/><text class="t" x="726" y="1043">boolean</text>
<rect class="y" x="771" y="1029" width="52" height="16"/><text class="t" x="797" y="1037">boolean</text>
<rect class="y" x="740" y="1040" width="30" height="16"/><text class="t" x="758" y="1048">string</text>
</g>
<!-- subclass labels -->
<g>
<text class="sc" x="634" y="143">Subclass</text><text class="sc" x="669" y="131">Subclass</text><text class="sc" x="705" y="135">Subclass</text>
<text class="sc" x="709" y="296">Subclass</text><text class="sc" x="745" y="292">Subclass</text><text class="sc" x="776" y="299">Subclass</text><text class="sc" x="822" y="306">Subclass</text><text class="sc" x="846" y="324">Subclass</text>
<text class="sc" x="290" y="251">Subclass</text><text class="sc" x="299" y="311">Subclass</text><text class="sc" x="325" y="321">Subclass</text><text class="sc" x="197" y="392">Subclass</text><text class="sc" x="232" y="320">Subclass</text>
<text class="sc" x="1148" y="456">Subclass</text><text class="sc" x="1182" y="471">Subclass</text><text class="sc" x="1208" y="505">Subclass</text><text class="sc" x="1249" y="575">Subclass</text><text class="sc" x="1099" y="652">Subclass</text><text class="sc" x="1267" y="649">Subclass</text><text class="sc" x="1270" y="613">Subclass</text><text class="sc" x="1071" y="606">Subclass</text>
<text class="sc" x="337" y="669">Subclass</text><text class="sc" x="316" y="705">Subclass</text><text class="sc" x="272" y="802">Subclass</text><text class="sc" x="296" y="845">Subclass</text>
<text class="sc" x="1132" y="780">Subclass</text><text class="sc" x="1128" y="794">Subclass</text><text class="sc" x="1108" y="830">Subclass</text><text class="sc" x="1098" y="853">Subclass</text><text class="sc" x="1079" y="879">Subclass</text><text class="sc" x="986" y="877">Subclass</text>
<text class="sc" x="1291" y="922">Subclass</text><text class="sc" x="1203" y="990">Subclass</text><text class="sc" x="1183" y="1012">Subclass</text><text class="sc" x="1153" y="1027">Subclass</text><text class="sc" x="1440" y="892">Subclass</text><text class="sc" x="1140" y="945">Subclass</text>
<text class="sc" x="600" y="1047">Subclass</text><text class="sc" x="631" y="1059">Subclass</text><text class="sc" x="731" y="1017">Subclass</text><text class="sc" x="816" y="1016">SuSubclass</text>
<text class="sc" x="1003" y="1282">Subclass</text><text class="sc" x="984" y="1290">Subclass</text><text class="sc" x="964" y="1303">Subclass</text><text class="sc" x="948" y="1314">Subclass</text>
<text class="sc" x="538" y="397">Subclass</text><text class="sc" x="600" y="535">Subclass</text><text class="sc" x="790" y="465">Subclass</text><text class="sc" x="882" y="560">Subclass</text><text class="sc" x="888" y="571">Subclass</text>
<text class="sc" x="578" y="663">Subclass</text><text class="sc" x="520" y="665">Subclass</text><text class="sc" x="690" y="686">Subclass</text><text class="sc" x="740" y="680">Subclass</text><text class="sc" x="805" y="710">Subclass</text><text class="sc" x="850" y="760">Subclass</text><text class="sc" x="930" y="855">Subclass</text><text class="sc" x="900" y="870">Subclass</text><text class="sc" x="968" y="773">Subclass</text><text class="sc" x="570" y="783">Subclass</text><text class="sc" x="530" y="912">Subclass</text><text class="sc" x="556" y="910">Subclass</text><text class="sc" x="750" y="825">Subclass</text><text class="sc" x="940" y="634">Subclass</text>
</g>
</svg>
</body></html>
